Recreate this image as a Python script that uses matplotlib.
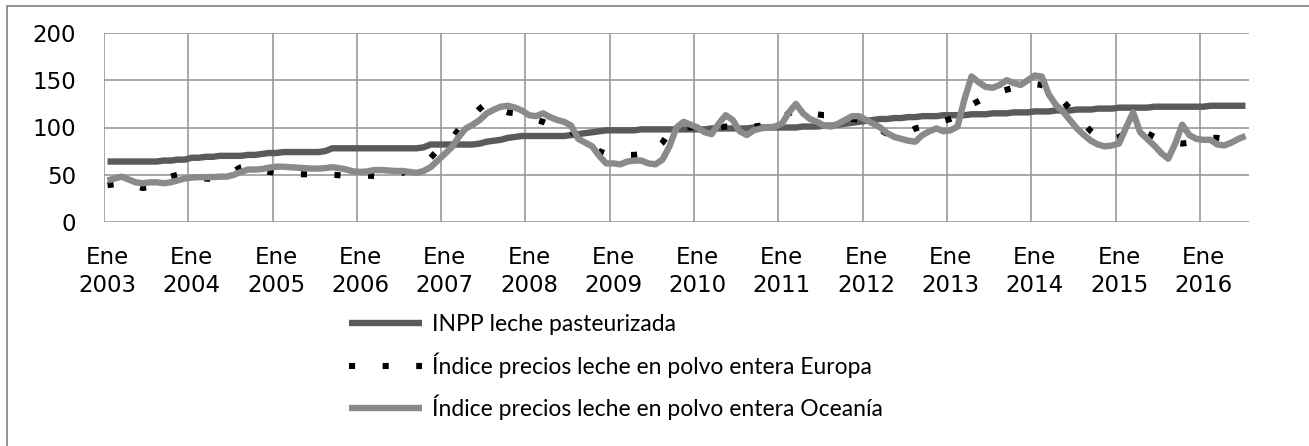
import matplotlib
matplotlib.use("Agg")
import matplotlib.pyplot as plt
import numpy as np
from matplotlib.patches import Rectangle

# meses desde Ene 2003 hasta Jul 2016
years = list(range(2003, 2017))
tick_labels = ["Ene\n%d" % y for y in years]

# INPP leche pasteurizada
inpp = [
    64, 64, 64, 64, 64, 64, 64, 64, 65, 65, 66, 66,          # 2003
    68, 68, 69, 69, 70, 70, 70, 70, 71, 71, 72, 73,          # 2004
    73, 74, 74, 74, 74, 74, 74, 75, 78, 78, 78, 78,          # 2005
    78, 78, 78, 78, 78, 78, 78, 78, 78, 79, 82, 82,          # 2006
    82, 82, 82, 82, 82, 83, 85, 86, 87, 89, 90, 91,          # 2007
    91, 91, 91, 91, 91, 91, 92, 93, 94, 95, 96, 97,          # 2008
    97, 97, 97, 97, 98, 98, 98, 98, 98, 98, 98, 98,          # 2009
    98, 98, 99, 99, 99, 99, 99, 99, 100, 100, 100, 100,      # 2010
    100, 100, 100, 101, 101, 101, 102, 102, 103, 104, 105, 106,  # 2011
    107, 108, 109, 109, 110, 110, 111, 111, 112, 112, 112, 113,  # 2012
    113, 113, 113, 114, 114, 114, 115, 115, 115, 116, 116, 116,  # 2013
    117, 117, 117, 118, 118, 118, 119, 119, 119, 120, 120, 120,  # 2014
    121, 121, 121, 121, 121, 122, 122, 122, 122, 122, 122, 122,  # 2015
    122, 123, 123, 123, 123, 123, 123,                           # 2016
]

# Indice precios leche en polvo entera Europa
europa = [
    39, 40, 42, 40, 38, 36, 37, 40, 44, 48, 50, 49,
    47, 46, 46, 45.5, 47, 50, 54, 58, 60, 58, 55, 53,
    52, 52, 51, 50.5, 50.5, 50.5, 51, 51, 50, 49.5, 49, 49,
    49, 49, 48.7, 48.7, 49, 50, 52, 56, 58.5, 62, 68, 76,
    80, 88, 98, 105, 112, 120, 126, 122, 118, 116, 115, 113,
    110, 108, 106, 103, 101, 99, 96, 90, 84, 80, 75, 72,
    71, 70, 71, 71, 72, 74, 77, 84, 95, 100, 101, 100,
    101, 101, 100, 100, 101, 101, 100, 100, 101, 102, 104, 108,
    111, 115, 118, 118, 116, 114, 113, 113, 112, 110, 109, 108,
    106, 103, 98, 93, 91, 92, 95, 99, 101, 103, 105, 107,
    109, 112, 118, 124, 128, 132, 135, 138, 140, 142, 144, 145,
    146, 145, 140, 136, 128, 120, 111, 104, 96, 90, 88, 88,
    90, 94, 97, 97, 94, 90, 88, 86, 84, 83, 84, 86,
    88, 89, 89, 88, 89, 91, 93,
]

# Indice precios leche en polvo entera Oceania
oceania = [
    44, 46, 48, 45, 42, 41, 42, 42, 41, 42, 44, 46,
    47, 47.5, 47.5, 47.5, 48, 48, 50, 53, 55.5, 55.5, 56, 57.5,
    58.5, 58.5, 58, 57.5, 57, 56.5, 56.5, 57, 58, 57, 55.5, 53.5,
    53, 53.5, 55, 55, 54.5, 54, 54, 53, 52, 54, 58, 65,
    72, 79, 90, 99, 103, 108, 115, 119, 122, 123, 121, 118,
    113, 112, 115, 111, 108, 106, 102, 88, 84, 80, 70, 62,
    62, 61, 64, 65, 65, 62, 61, 66, 80, 100, 106, 103,
    100, 95, 93, 104, 113, 108, 96, 92, 97, 99, 100, 101,
    104, 116, 125, 115, 109, 106, 102, 101, 104, 108, 112, 112,
    108, 104, 100, 94, 90, 88, 86, 85, 92, 96, 99, 96,
    97, 101, 130, 154, 148, 143, 142, 145, 150, 147, 145, 150,
    155, 154, 135, 124, 117, 108, 99, 92, 86, 82, 80, 81,
    83, 100, 116, 95, 88, 81, 73, 67, 83, 103, 92, 88,
    87, 87, 82, 81, 84, 88, 91,
]

x = np.arange(len(inpp))

fig = plt.figure(figsize=(13.09, 4.46), dpi=100)
ax = fig.add_axes([104 / 1309, 1 - 222 / 446, (1249 - 104) / 1309, (222 - 33) / 446])

# marco exterior
fig.patches.append(Rectangle((7 / 1309, -0.1), 1.0, 1 - 6 / 446 + 0.1,
                             transform=fig.transFigure, fill=False,
                             edgecolor="#8c8c8c", linewidth=1.3))

l1, = ax.plot(x, inpp, color="#5a5a5a", lw=4.6, solid_capstyle="butt", zorder=3,
              label="INPP leche pasteurizada")
l2, = ax.plot(x, europa, color="black", lw=4.4, linestyle=(0, (1, 4.5)),
              dash_capstyle="butt", zorder=4,
              label="Índice precios leche en polvo entera Europa")
l3, = ax.plot(x, oceania, color="#8a8a8a", lw=4.6, solid_capstyle="butt", zorder=5,
              label="Índice precios leche en polvo entera Oceanía")

ax.set_xlim(-0.5, len(inpp) - 0.5)
ax.set_ylim(0, 200)
ax.set_yticks([0, 50, 100, 150, 200])
ax.set_xticks(np.arange(len(years)) * 12 - 0.5)
ax.set_xticklabels([])
ax.set_xticks(np.arange(len(years)) * 12, minor=True)
ax.set_xticklabels(tick_labels, minor=True, fontsize=16.5, linespacing=1.3,
                   family="DejaVu Sans")
ax.tick_params(axis="x", which="both", length=0, pad=17)
ax.tick_params(axis="y", length=0, pad=20, labelsize=16.5)
ax.grid(True, which="major", color="#999999", linewidth=1.2)
ax.set_axisbelow(True)
for s in ax.spines.values():
    s.set_visible(False)

fig.legend(handles=[l1, l2, l3], loc="upper left",
           bbox_to_anchor=(349 / 1309, 1 - 314 / 446), frameon=False,
           prop={"family": "Lato", "size": 16.5}, handlelength=3.2,
           handletextpad=0.4, labelspacing=0.75, borderpad=0, borderaxespad=0)

fig.savefig("out.png", dpi=100)
